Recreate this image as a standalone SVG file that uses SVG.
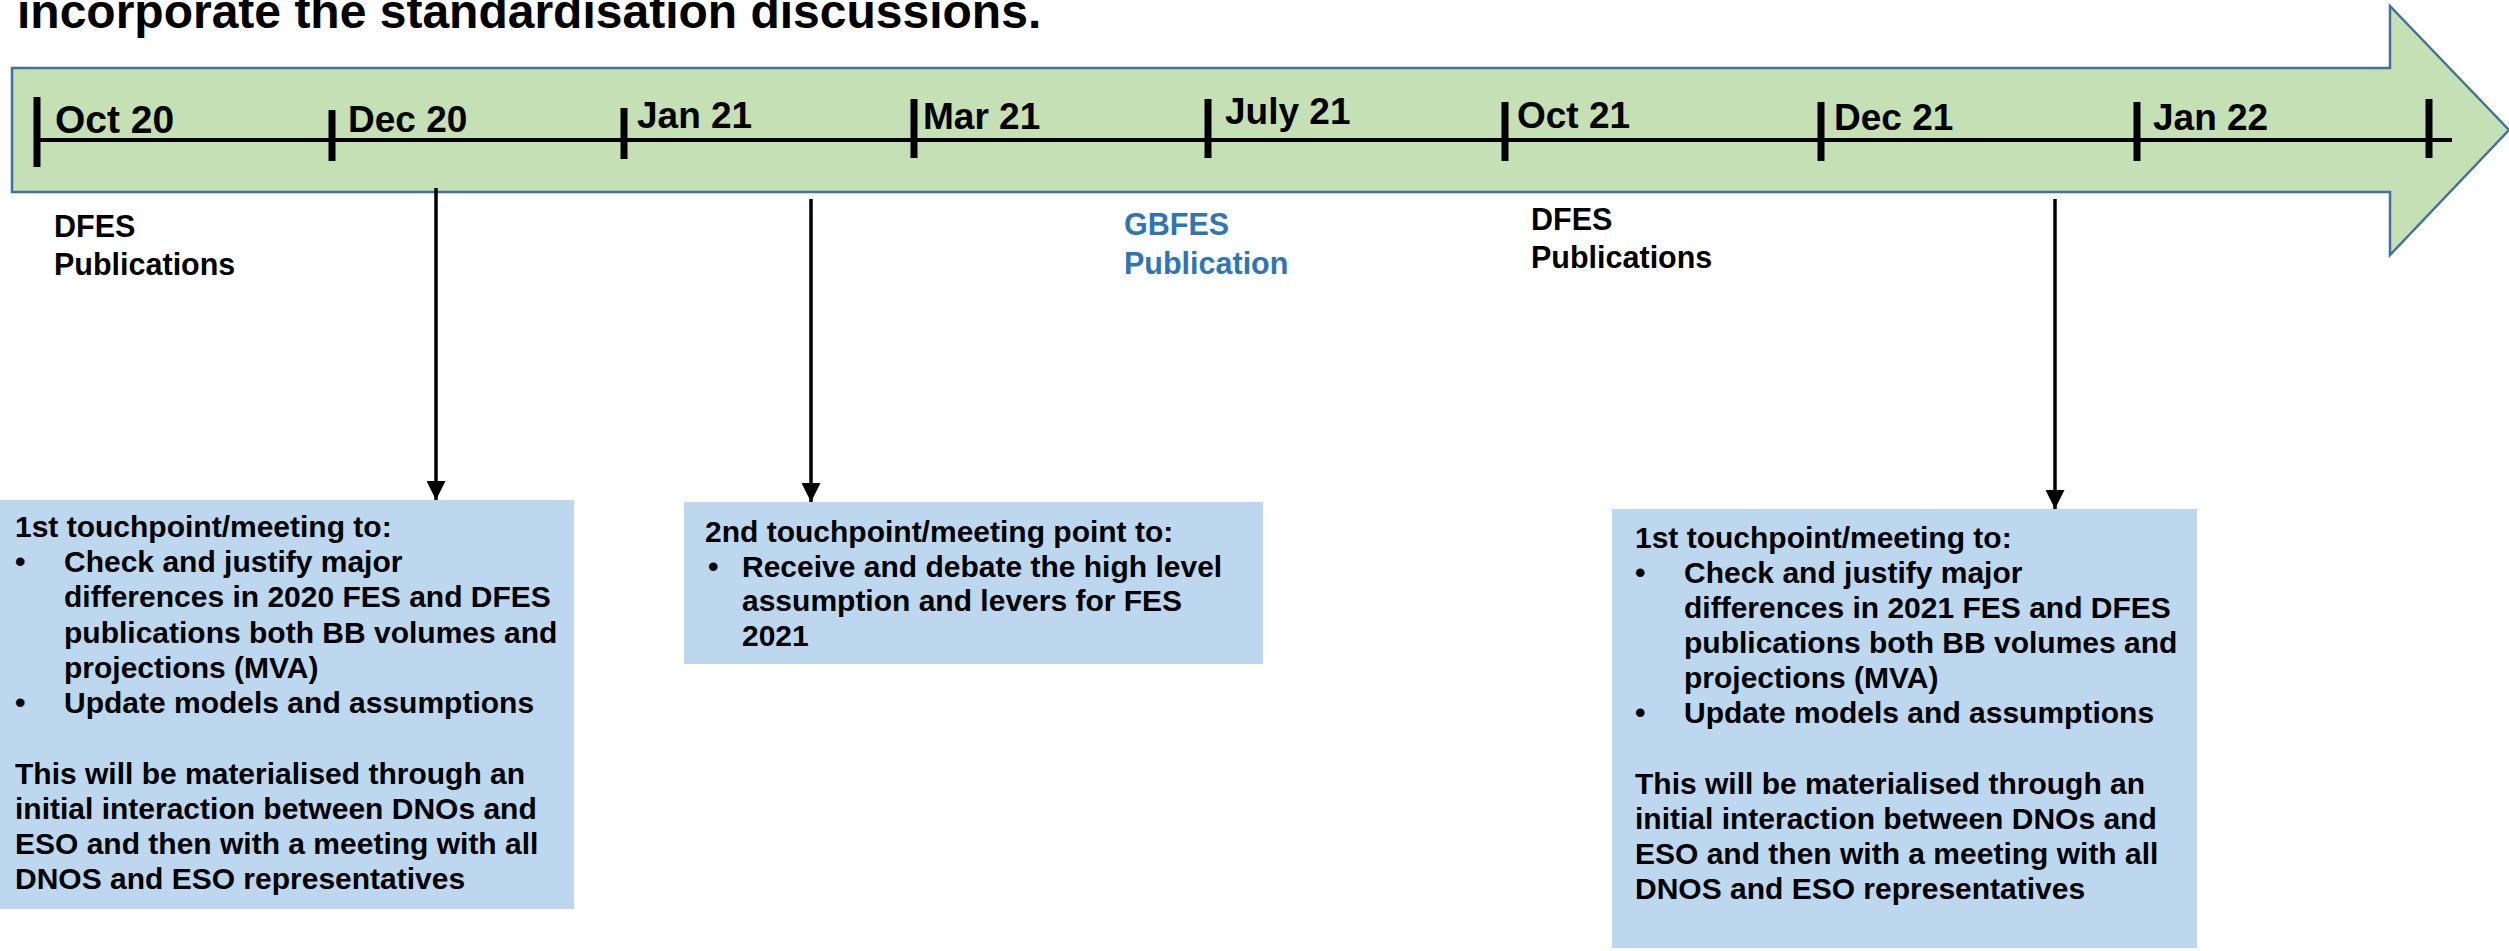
<svg xmlns="http://www.w3.org/2000/svg" width="2509" height="951" viewBox="0 0 2509 951">
<style>
text{font-family:"Liberation Sans",Arial,sans-serif;font-weight:bold;fill:#000}
.title{font-size:48px}
.mo{font-size:37px}
.lbl{font-size:30.5px}
.blue{fill:#2E75B6}
.bx{font-size:30px}
.box{fill:#BDD7EE}
.tick{stroke:#000;stroke-width:7}
.conn{stroke:#000;stroke-width:3.5;fill:none;marker-end:url(#ah)}
</style>
<defs>
<marker id="ah" markerUnits="userSpaceOnUse" markerWidth="19" markerHeight="19" refX="19" refY="9.5" orient="auto">
<path d="M0,0 L19,9.5 L0,19 z" fill="#000"/>
</marker>
</defs>
<rect width="2509" height="951" fill="#fff"/>
<g id="title"><text class="title" x="17" y="28">incorporate the standardisation discussions.</text></g>
<g id="timeline">
<polygon points="12,68 2390,68 2390,6 2509,130 2390,255 2390,192 12,192" fill="#C5E0B4" stroke="#41719C" stroke-width="2.5"/>
<line x1="37" y1="140" x2="2452" y2="140" stroke="#000" stroke-width="4"/>
<line class="tick" x1="37" y1="97" x2="37" y2="167"/>
<line class="tick" x1="332" y1="110" x2="332" y2="161"/>
<line class="tick" x1="624" y1="108" x2="624" y2="159"/>
<line class="tick" x1="914" y1="99" x2="914" y2="158"/>
<line class="tick" x1="1208" y1="99" x2="1208" y2="158"/>
<line class="tick" x1="1505" y1="102" x2="1505" y2="161"/>
<line class="tick" x1="1821" y1="102" x2="1821" y2="161"/>
<line class="tick" x1="2137" y1="102" x2="2137" y2="161"/>
<line class="tick" x1="2429" y1="99" x2="2429" y2="158"/>
<text class="mo" x="55" y="133" style="font-size:39px">Oct 20</text>
<text class="mo" x="348" y="132">Dec 20</text>
<text class="mo" x="637" y="128">Jan 21</text>
<text class="mo" x="923" y="129">Mar 21</text>
<text class="mo" x="1225" y="124">July 21</text>
<text class="mo" x="1517" y="128">Oct 21</text>
<text class="mo" x="1834" y="130">Dec 21</text>
<text class="mo" x="2153" y="130">Jan 22</text>
</g>
<g id="dfes1"><text class="lbl" x="54" y="237">DFES</text><text class="lbl" x="54" y="275">Publications</text></g>
<g id="gbfes"><text class="lbl blue" x="1124" y="235">GBFES</text><text class="lbl blue" x="1124" y="274">Publication</text></g>
<g id="dfes2"><text class="lbl" x="1531" y="230">DFES</text><text class="lbl" x="1531" y="268">Publications</text></g>
<g id="connectors">
<line class="conn" x1="436" y1="188" x2="436" y2="500"/>
<line class="conn" x1="811" y1="199" x2="811" y2="502"/>
<line class="conn" x1="2055" y1="199" x2="2055" y2="509"/>
</g>
<g id="box1">
<rect class="box" x="0" y="500" width="574" height="409"/>
<text class="bx" x="15" y="537">1st touchpoint/meeting to:</text>
<text class="bx" x="15" y="572">•</text>
<text class="bx" x="64" y="572">Check and justify major</text>
<text class="bx" x="64" y="607">differences in 2020 FES and DFES</text>
<text class="bx" x="64" y="643">publications both BB volumes and</text>
<text class="bx" x="64" y="678">projections (MVA)</text>
<text class="bx" x="15" y="713">•</text>
<text class="bx" x="64" y="713">Update models and assumptions</text>
<text class="bx" x="15" y="784">This will be materialised through an</text>
<text class="bx" x="15" y="819">initial interaction between DNOs and</text>
<text class="bx" x="15" y="854">ESO and then with a meeting with all</text>
<text class="bx" x="15" y="889">DNOS and ESO representatives</text>
</g>
<g id="box2">
<rect class="box" x="684" y="502" width="579" height="162"/>
<text class="bx" x="705" y="542">2nd touchpoint/meeting point to:</text>
<text class="bx" x="708" y="577">•</text>
<text class="bx" x="742" y="577">Receive and debate the high level</text>
<text class="bx" x="742" y="611">assumption and levers for FES</text>
<text class="bx" x="742" y="646">2021</text>
</g>
<g id="box3">
<rect class="box" x="1612" y="509" width="585" height="439"/>
<text class="bx" x="1635" y="548">1st touchpoint/meeting to:</text>
<text class="bx" x="1635" y="583">•</text>
<text class="bx" x="1684" y="583">Check and justify major</text>
<text class="bx" x="1684" y="618">differences in 2021 FES and DFES</text>
<text class="bx" x="1684" y="653">publications both BB volumes and</text>
<text class="bx" x="1684" y="688">projections (MVA)</text>
<text class="bx" x="1635" y="723">•</text>
<text class="bx" x="1684" y="723">Update models and assumptions</text>
<text class="bx" x="1635" y="794">This will be materialised through an</text>
<text class="bx" x="1635" y="829">initial interaction between DNOs and</text>
<text class="bx" x="1635" y="864">ESO and then with a meeting with all</text>
<text class="bx" x="1635" y="899">DNOS and ESO representatives</text>
</g>
</svg>
